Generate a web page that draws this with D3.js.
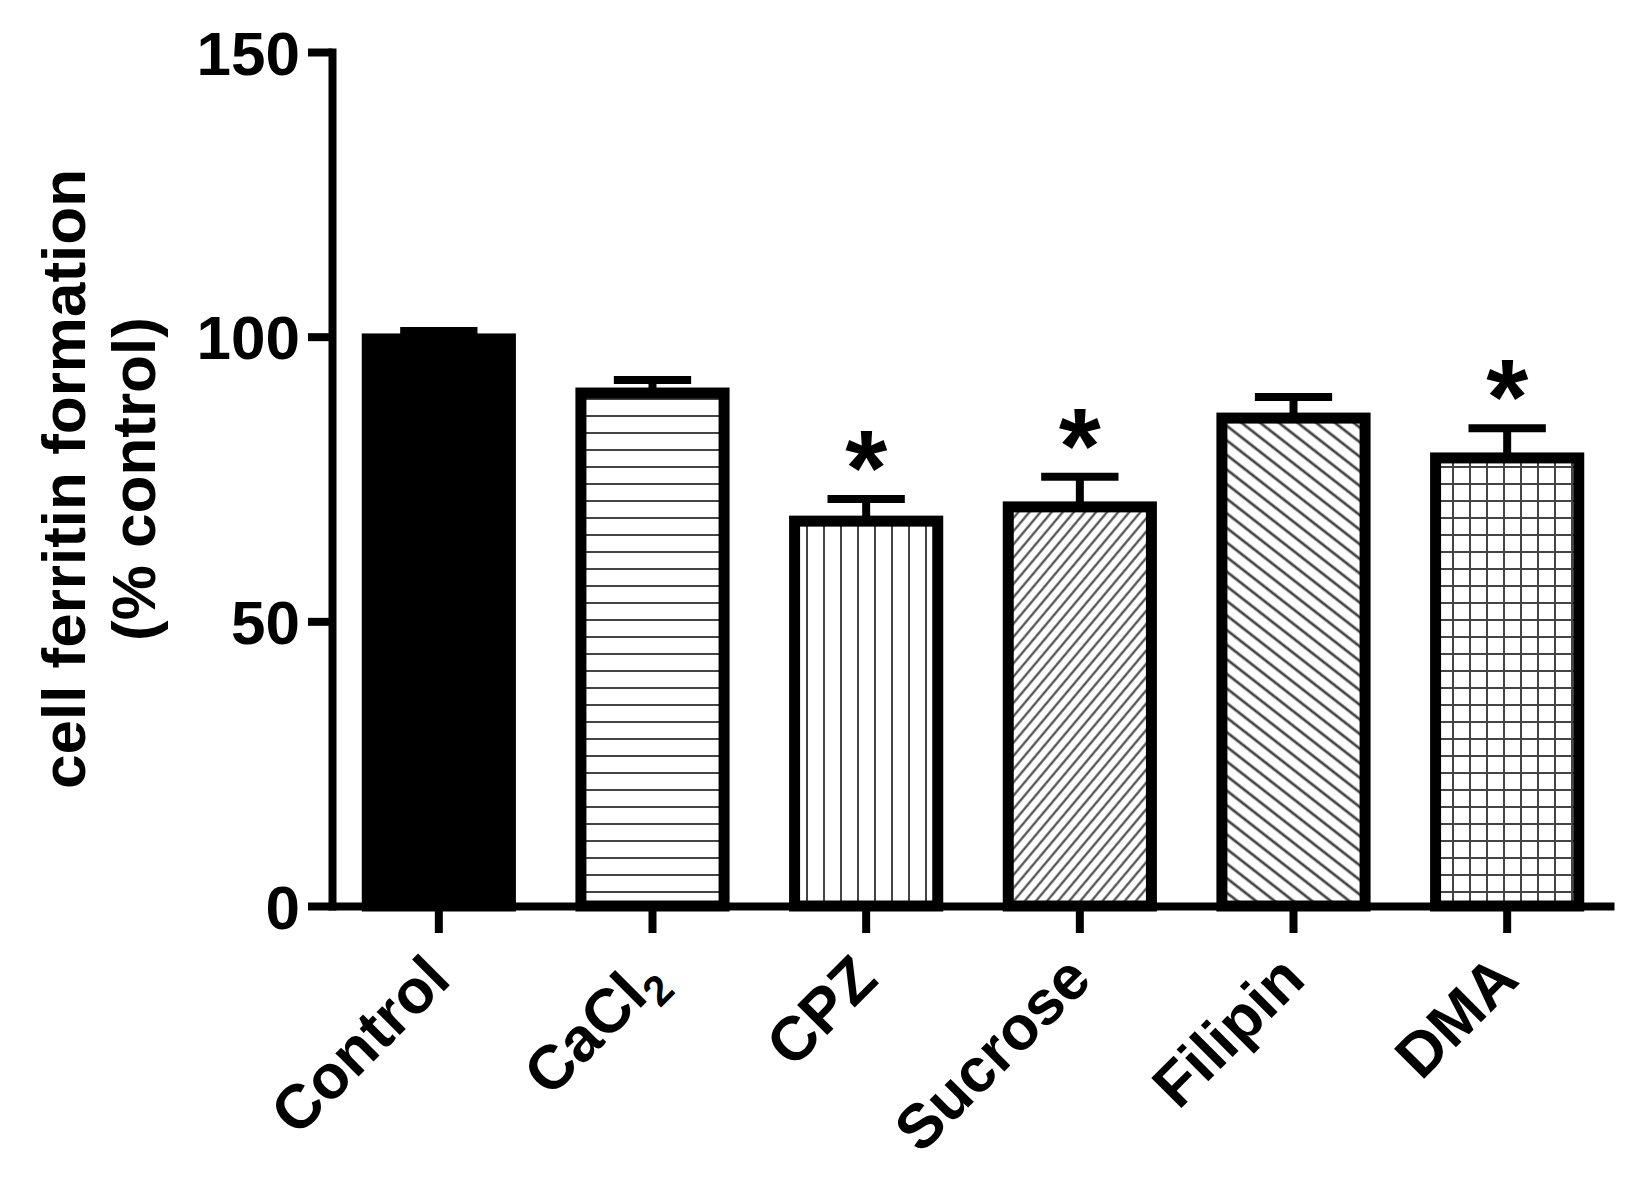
<!DOCTYPE html>
<html>
<head>
<meta charset="utf-8">
<script src="https://cdn.jsdelivr.net/npm/d3@7"></script>
<style>
  body { margin: 0; background: #fff; }
  svg { display: block; background: #fff; }
</style>
</head>
<body>
<svg id="chart" width="1648" height="1180"></svg>
<script>
// values (% of control, mean + SEM)
const categories = ["Control", "CaCl2", "CPZ", "Sucrose", "Filipin", "DMA"];
const values = [99.6, 90.1, 67.6, 70.1, 85.7, 78.7];
const errors = [1.4, 2.3, 3.9, 5.3, 3.7, 5.2];
const significant = [false, false, true, true, false, true];
const yTicks = [0, 50, 100, 150];
const yTitle = ["cell ferritin formation", "(% control)"];

const font = "'Liberation Sans', Arial, sans-serif";
const hatch = "#444";

// which fill each bar gets
const patternFor = {
    Control: "#000",
    CaCl2: "url(#hlines)",
    CPZ: "url(#vlines)",
    Sucrose: "url(#diagUp)",
    Filipin: "url(#diagDown)",
    DMA: "url(#grid)"
};

const rows = categories.map(function (c, i) {
    return { name: c, value: values[i], err: errors[i], sig: significant[i] };
});

const svg = d3.select("#chart");

const x = d3.scaleBand()
    .domain(categories)
    .range([332, 1614])
    .paddingInner(0.33)
    .paddingOuter(0.165);

const y = d3.scaleLinear()
    .domain([0, 150])
    .range([906, 52]);

// hatch patterns
const defs = svg.append("defs");
function linePattern(id, size, paths, rotate, width) {
    const p = defs.append("pattern")
        .attr("id", id)
        .attr("patternUnits", "userSpaceOnUse")
        .attr("width", size)
        .attr("height", size);
    if (rotate) p.attr("patternTransform", "rotate(" + rotate + ")");
    paths.forEach(function (d) {
        p.append("path")
            .attr("d", d)
            .attr("stroke", hatch)
            .attr("stroke-width", width || 2)
            .attr("fill", "none");
    });
}
linePattern("hlines", 17, ["M0,8H17"]);
linePattern("vlines", 17, ["M8,0V17"]);
linePattern("grid", 17, ["M0,8H17", "M8,0V17"]);
linePattern("diagUp", 8.5, ["M4.25,-1V9.5"], 40, 2.1);
linePattern("diagDown", 11.5, ["M-1,5.75H12.5"], 38, 2.7);

// bars
svg.append("g")
    .selectAll("rect")
    .data(rows)
    .join("rect")
    .attr("x", function (d) { return x(d.name); })
    .attr("y", function (d) { return y(d.value); })
    .attr("width", x.bandwidth())
    .attr("height", function (d) { return y(0) - y(d.value); })
    .attr("fill", function (d) { return patternFor[d.name]; })
    .attr("stroke", "#000")
    .attr("stroke-width", 11);

// error bars (upper only)
const err = svg.append("g")
    .attr("stroke", "#000")
    .attr("stroke-width", 8);
const capHalf = x.bandwidth() * 0.27;
err.selectAll("line.stem")
    .data(rows)
    .join("line")
    .attr("class", "stem")
    .attr("x1", function (d) { return x(d.name) + x.bandwidth() / 2; })
    .attr("x2", function (d) { return x(d.name) + x.bandwidth() / 2; })
    .attr("y1", function (d) { return y(d.value); })
    .attr("y2", function (d) { return y(d.value + d.err); });
err.selectAll("line.cap")
    .data(rows)
    .join("line")
    .attr("class", "cap")
    .attr("x1", function (d) { return x(d.name) + x.bandwidth() / 2 - capHalf; })
    .attr("x2", function (d) { return x(d.name) + x.bandwidth() / 2 + capHalf; })
    .attr("y1", function (d) { return y(d.value + d.err); })
    .attr("y2", function (d) { return y(d.value + d.err); });

// significance stars
svg.append("g")
    .selectAll("text")
    .data(rows.filter(function (d) { return d.sig; }))
    .join("text")
    .attr("x", function (d) { return x(d.name) + x.bandwidth() / 2; })
    .attr("y", function (d) { return y(d.value + d.err) + 6; })
    .attr("text-anchor", "middle")
    .attr("font-family", font)
    .attr("font-weight", "bold")
    .attr("font-size", 108)
    .text("*");

// y axis
const gy = svg.append("g")
    .attr("transform", "translate(332,0)")
    .call(d3.axisLeft(y).tickValues(yTicks).tickSize(24).tickSizeOuter(0).tickPadding(8))
    .attr("font-family", font)
    .attr("font-size", 62)
    .attr("font-weight", "bold");
gy.select(".domain")
    .attr("stroke-width", 8)
    .attr("stroke-linecap", "square");
gy.selectAll(".tick line").attr("stroke-width", 8);
gy.selectAll(".tick text").attr("fill", "#000").attr("dy", "0.36em");

// x axis
const gx = svg.append("g")
    .attr("transform", "translate(0,906)")
    .call(d3.axisBottom(x).tickSize(27).tickSizeOuter(0))
    .attr("font-family", font)
    .attr("font-size", 62)
    .attr("font-weight", "bold");
gx.select(".domain").attr("stroke-width", 8);
gx.selectAll(".tick line").attr("stroke-width", 8);
gx.selectAll(".tick text")
    .attr("fill", "#000")
    .attr("x", 0)
    .attr("y", 0)
    .attr("dy", 0)
    .attr("text-anchor", "end")
    .attr("transform", "translate(14,76) rotate(-45)")
    .each(function (d) {
        if (d === "CaCl2") {
            const t = d3.select(this).text("CaCl");
            t.append("tspan").attr("font-size", 42).attr("dy", 14).text("2");
        }
    });

// y title
svg.append("g")
    .selectAll("text")
    .data(yTitle)
    .join("text")
    .attr("transform", function (d, i) { return "translate(" + (85 + i * 70) + ",479) rotate(-90)"; })
    .attr("text-anchor", "middle")
    .attr("font-family", font)
    .attr("font-weight", "bold")
    .attr("font-size", 62)
    .text(function (d) { return d; });
</script>
</body>
</html>
